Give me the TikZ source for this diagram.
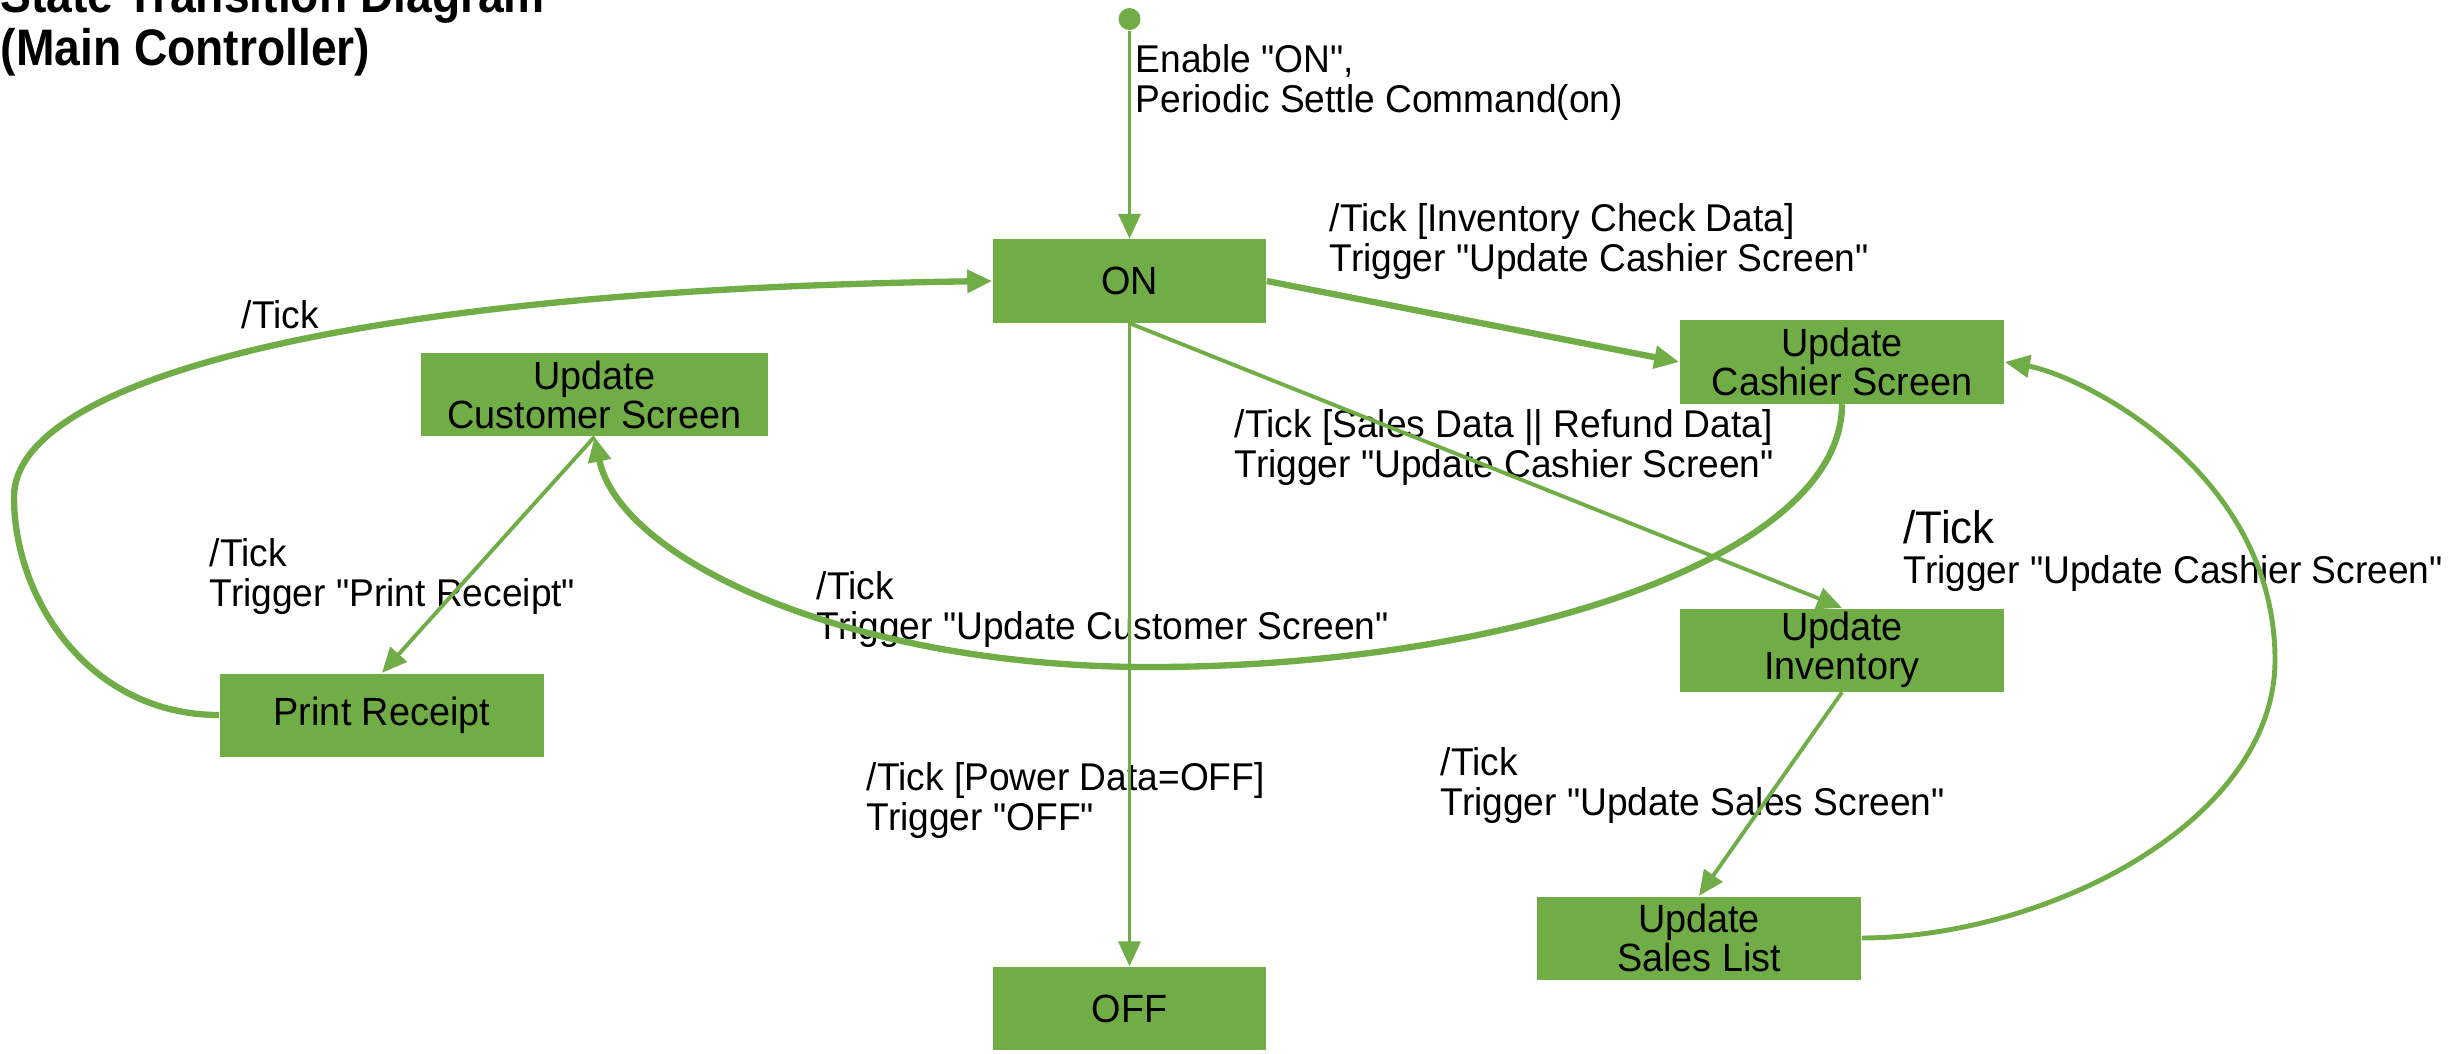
\documentclass[tikz,border=0pt]{standalone}
\usepackage{fontspec}
\setmainfont{Liberation Sans}[Ligatures=TeXOff,FakeStretch=0.96]
\newfontfamily\titlefont{Liberation Sans}[Ligatures=TeXOff,FakeStretch=0.9]
\usetikzlibrary{arrows.meta}
\definecolor{stgreen}{HTML}{70AD47}
\begin{document}
\begin{tikzpicture}[x=0.01cm,y=-0.01cm,
    state/.style={fill=stgreen,inner sep=0,minimum width=3.24cm,minimum height=0.83cm,align=center,font=\fontsize{11.2}{11.1}\selectfont},
    lbl/.style={anchor=base west,inner sep=0,align=left,font=\fontsize{11}{11.1}\selectfont},
    tr/.style={stgreen,line width=1.1pt,-{Triangle[length=0.25cm,width=0.22cm]}},
    trthick/.style={tr,line width=1.8pt}]
    \useasboundingbox (0,0) rectangle (2458,1053);
    \node[anchor=base west,inner sep=0,align=left,font=\titlefont\fontsize{14.6}{14.8}\selectfont\bfseries] (title) at (0,65) {State Transition Diagram\\(Main Controller)};
    \node[circle,fill=stgreen,inner sep=0,minimum size=0.22cm] (init) at (1129.5,19) {};
    \node[state,minimum width=2.73cm] (on) at (1129.5,281) {ON};
    \node[state,minimum width=2.73cm] (off) at (1129.5,1008.5) {OFF};
    \node[state] (cashier) at (1842,362) {Update\\Cashier Screen};
    \node[state] (inventory) at (1842,650) {Update\\Inventory};
    \node[state] (sales) at (1699,938) {Update\\Sales List};
    \node[state] (receipt) at (382,715) {Print Receipt};
    \node[state,minimum width=3.47cm] (customer) at (594.5,394.5) {Update\\Customer Screen};
    \node[lbl] (lenable) at (1135,112) {Enable "ON",\\Periodic Settle Command(on)};
    \node[lbl] (linvcheck) at (1329,271) {/Tick [Inventory Check Data]\\Trigger "Update Cashier Screen"};
    \node[lbl] (ltick) at (241,328) {/Tick};
    \node[lbl] (lsalesdata) at (1234,477) {/Tick [Sales Data || Refund Data]\\Trigger "Update Cashier Screen"};
    \node[lbl] (lprint) at (209,606) {/Tick\\Trigger "Print Receipt"};
    \node[lbl] (lcustomer) at (816,639) {/Tick\\Trigger "Update Customer Screen"};
    \node[lbl] (lpower) at (866,830) {/Tick [Power Data=OFF]\\Trigger "OFF"};
    \node[lbl] (lsalesscr) at (1440,815) {/Tick\\Trigger "Update Sales Screen"};
    \node[lbl] (lcashier) at (1903,583) {{\fontsize{13}{13}\selectfont/Tick}\\Trigger "Update Cashier Screen"};
    \draw[tr] (init) -- (on);
    \draw[trthick] (on.east) -- (cashier.west);
    \draw[tr] (on.south) -- (inventory.north);
    \draw[tr] (on.south) -- (off.north);
    \draw[tr] (customer.south) -- (receipt.north);
    \draw[tr] (inventory.south) -- (sales.north);
    \draw[trthick] (receipt.west) .. controls (90,715) and (14,600) .. (14,497) .. controls (14,380) and (350,290) .. (on.west);
    \draw[trthick] (cashier.south) .. controls (1842,560) and (1500,667) .. (1150,667) .. controls (850,667) and (620,560) .. (customer.south);
    \draw[tr,line width=1.4pt] (sales.east) .. controls (2050,937) and (2275,820) .. (2275,660) .. controls (2275,470) and (2080,375) .. (cashier.east);
\end{tikzpicture}
\end{document}
